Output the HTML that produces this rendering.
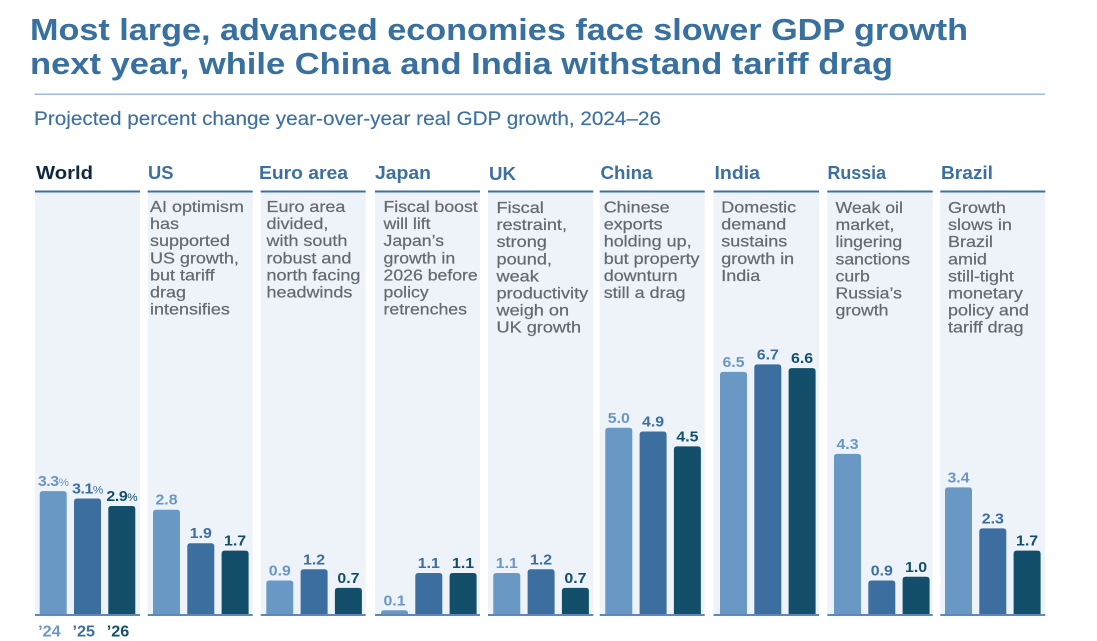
<!DOCTYPE html>
<html lang="en">
<head>
<meta charset="utf-8">
<title>Most large, advanced economies face slower GDP growth</title>
<style>
html,body{margin:0;padding:0;background:#fff;}
body{width:1097px;height:641px;overflow:hidden;}
svg{display:block;font-family:"Liberation Sans",Arial,sans-serif;}
.hd{font-size:18px;font-weight:700;fill:#3c70a0;}
.note{font-size:15.5px;fill:#666a6e;stroke:#666a6e;stroke-width:.22px;}
.val{font-size:15px;font-weight:700;text-anchor:middle;}
.yr{font-size:15.5px;font-weight:700;}
</style>
</head>
<body>
<svg id="chart" width="1097" height="641" viewBox="0 0 1097 641" xmlns="http://www.w3.org/2000/svg">
  <text x="30" y="40" font-size="30.5" font-weight="700" fill="#38709f" textLength="938" lengthAdjust="spacingAndGlyphs">Most large, advanced economies face slower GDP growth</text>
  <text x="30" y="74" font-size="30.5" font-weight="700" fill="#38709f" textLength="863" lengthAdjust="spacingAndGlyphs">next year, while China and India withstand tariff drag</text>
  <rect x="34.5" y="93.5" width="1010.5" height="1.5" fill="#9dbbd6"/>
  <text x="34" y="125" font-size="19.5" fill="#3c70a0" stroke="#3c70a0" stroke-width=".15" textLength="627" lengthAdjust="spacingAndGlyphs">Projected percent change year-over-year real GDP growth, 2024–26</text>

  <g id="panels" fill="#eef3fa">
    <rect class="panel" data-bars-x="39.7" x="35" y="191" width="105" height="423"/>
    <rect class="panel" data-bars-x="153" x="147.7" y="191" width="105" height="423"/>
    <rect class="panel" data-bars-x="266.3" x="260.7" y="191" width="105" height="423"/>
    <rect class="panel" data-bars-x="381" x="375" y="191" width="105" height="423"/>
    <rect class="panel" data-bars-x="493.3" x="488" y="191" width="105.3" height="423"/>
    <rect class="panel" data-bars-x="605.3" x="599.7" y="191" width="105" height="423"/>
    <rect class="panel" data-bars-x="720" x="713.5" y="191" width="105.5" height="423"/>
    <rect class="panel" data-bars-x="834" x="827.3" y="191" width="105.4" height="423"/>
    <rect class="panel" data-bars-x="945" x="940.3" y="191" width="105" height="423"/>
  </g>
  <g id="rules"></g>

  <text class="hd" x="36" y="179" style="fill:#10283f" textLength="57" lengthAdjust="spacingAndGlyphs">World</text>
  <text class="hd" x="148" y="179" textLength="25.5" lengthAdjust="spacingAndGlyphs">US</text>
  <text class="hd" x="259" y="179" textLength="89" lengthAdjust="spacingAndGlyphs">Euro area</text>
  <text class="hd" x="375" y="179" textLength="56" lengthAdjust="spacingAndGlyphs">Japan</text>
  <text class="hd" x="489" y="180" textLength="27" lengthAdjust="spacingAndGlyphs">UK</text>
  <text class="hd" x="600.5" y="179" textLength="52" lengthAdjust="spacingAndGlyphs">China</text>
  <text class="hd" x="714.5" y="179" textLength="45.5" lengthAdjust="spacingAndGlyphs">India</text>
  <text class="hd" x="827.5" y="179" textLength="58.5" lengthAdjust="spacingAndGlyphs">Russia</text>
  <text class="hd" x="941" y="179" textLength="52" lengthAdjust="spacingAndGlyphs">Brazil</text>

  <text class="note" transform="translate(150 212) scale(1.16 1)"><tspan x="0">AI optimism</tspan><tspan x="0" dy="17.1">has</tspan><tspan x="0" dy="17.1">supported</tspan><tspan x="0" dy="17.1">US growth,</tspan><tspan x="0" dy="17.1">but tariff</tspan><tspan x="0" dy="17.1">drag</tspan><tspan x="0" dy="17.1">intensifies</tspan></text>
  <text class="note" transform="translate(266.5 212) scale(1.16 1)"><tspan x="0">Euro area</tspan><tspan x="0" dy="17.1">divided,</tspan><tspan x="0" dy="17.1">with south</tspan><tspan x="0" dy="17.1">robust and</tspan><tspan x="0" dy="17.1">north facing</tspan><tspan x="0" dy="17.1">headwinds</tspan></text>
  <text class="note" transform="translate(383.5 212) scale(1.14 1)"><tspan x="0">Fiscal boost</tspan><tspan x="0" dy="17.1">will lift</tspan><tspan x="0" dy="17.1">Japan’s</tspan><tspan x="0" dy="17.1">growth in</tspan><tspan x="0" dy="17.1">2026 before</tspan><tspan x="0" dy="17.1">policy</tspan><tspan x="0" dy="17.1">retrenches</tspan></text>
  <text class="note" transform="translate(496.5 213) scale(1.17 1)"><tspan x="0">Fiscal</tspan><tspan x="0" dy="17.1">restraint,</tspan><tspan x="0" dy="17.1">strong</tspan><tspan x="0" dy="17.1">pound,</tspan><tspan x="0" dy="17.1">weak</tspan><tspan x="0" dy="17.1">productivity</tspan><tspan x="0" dy="17.1">weigh on</tspan><tspan x="0" dy="17.1">UK growth</tspan></text>
  <text class="note" transform="translate(603.7 212.5) scale(1.16 1)"><tspan x="0">Chinese</tspan><tspan x="0" dy="17.1">exports</tspan><tspan x="0" dy="17.1">holding up,</tspan><tspan x="0" dy="17.1">but property</tspan><tspan x="0" dy="17.1">downturn</tspan><tspan x="0" dy="17.1">still a drag</tspan></text>
  <text class="note" transform="translate(721.3 212.5) scale(1.16 1)"><tspan x="0">Domestic</tspan><tspan x="0" dy="17.1">demand</tspan><tspan x="0" dy="17.1">sustains</tspan><tspan x="0" dy="17.1">growth in</tspan><tspan x="0" dy="17.1">India</tspan></text>
  <text class="note" transform="translate(835.5 213) scale(1.14 1)"><tspan x="0">Weak oil</tspan><tspan x="0" dy="17.1">market,</tspan><tspan x="0" dy="17.1">lingering</tspan><tspan x="0" dy="17.1">sanctions</tspan><tspan x="0" dy="17.1">curb</tspan><tspan x="0" dy="17.1">Russia’s</tspan><tspan x="0" dy="17.1">growth</tspan></text>
  <text class="note" transform="translate(948 213) scale(1.16 1)"><tspan x="0">Growth</tspan><tspan x="0" dy="17.1">slows in</tspan><tspan x="0" dy="17.1">Brazil</tspan><tspan x="0" dy="17.1">amid</tspan><tspan x="0" dy="17.1">still-tight</tspan><tspan x="0" dy="17.1">monetary</tspan><tspan x="0" dy="17.1">policy and</tspan><tspan x="0" dy="17.1">tariff drag</tspan></text>

  <g id="bars"></g>
  <g id="labels"></g>
  <g id="years"></g>
</svg>
<script>
const categories = ['world', 'us', 'euro-area', 'japan', 'uk', 'china', 'india', 'russia', 'brazil'];
const growth2024 = [3.3, 2.8, 0.9, 0.1, 1.1, 5.0, 6.5, 4.3, 3.4];
const growth2025 = [3.1, 1.9, 1.2, 1.1, 1.2, 4.9, 6.7, 0.9, 2.3];
const growth2026 = [2.9, 1.7, 0.7, 1.1, 0.7, 4.5, 6.6, 1.0, 1.7];
const yearLabels = ['’24', '’25', '’26'];

const SVG_NS = 'http://www.w3.org/2000/svg';
const seriesValues = [growth2024, growth2025, growth2026];
const seriesColors = ['#6a98c4', '#3c6f9f', '#134f6b'];
const BASE_Y = 614;
const PX_PER_POINT = 37.25;
const BAR_WIDTH = 27;
const BAR_STEP = 34.3;

function yScale(v) { return BASE_Y - v * PX_PER_POINT; }
function xScale(panelIndex, seriesIndex) {
  const panel = document.querySelectorAll('.panel')[panelIndex];
  return parseFloat(panel.getAttribute('data-bars-x')) + seriesIndex * BAR_STEP;
}
function barPath(x, y, w) {
  const r = Math.min(3, BASE_Y - y);
  return 'M' + x + ' ' + BASE_Y + 'V' + (y + r) + 'Q' + x + ' ' + y + ' ' + (x + r) + ' ' + y +
         'H' + (x + w - r) + 'Q' + (x + w) + ' ' + y + ' ' + (x + w) + ' ' + (y + r) + 'V' + BASE_Y + 'Z';
}

const barsGroup = document.getElementById('bars');
const labelsGroup = document.getElementById('labels');
const yearsGroup = document.getElementById('years');
const rulesGroup = document.getElementById('rules');

document.querySelectorAll('.panel').forEach(function (panel, i) {
  const px = panel.getAttribute('x');
  const pw = panel.getAttribute('width');
  const top = document.createElementNS(SVG_NS, 'rect');
  
  
  top.setAttribute('x', px);
  top.setAttribute('y', 190.5);
  top.setAttribute('width', pw);
  top.setAttribute('height', 2);
  top.setAttribute('fill', '#3d70a0');
  rulesGroup.appendChild(top);
  const base = document.createElementNS(SVG_NS, 'rect');
  
  
  base.setAttribute('x', px);
  base.setAttribute('y', BASE_Y);
  base.setAttribute('width', pw);
  base.setAttribute('height', 2);
  base.setAttribute('fill', '#5f88b4');
  rulesGroup.appendChild(base);
});

categories.forEach(function (cat, c) {
  seriesValues.forEach(function (series, s) {
    const v = series[c];
    const x = xScale(c, s);
    const y = yScale(v);

    const bar = document.createElementNS(SVG_NS, 'path');
    
    
    bar.setAttribute('d', barPath(x, y, BAR_WIDTH));
    bar.setAttribute('fill', seriesColors[s]);
    barsGroup.appendChild(bar);

    const label = document.createElementNS(SVG_NS, 'text');
    
    
    label.setAttribute('class', 'val');
    label.setAttribute('transform', 'translate(' + (x + BAR_WIDTH / 2) + ' ' + (y - 5) + ') scale(1.06 1)');
    label.setAttribute('fill', seriesColors[s]);
    label.textContent = v.toFixed(1);
    if (c === 0) {
      label.style.letterSpacing = '-0.4px';
      const pct = document.createElementNS(SVG_NS, 'tspan');
      pct.setAttribute('font-size', '11');
      pct.setAttribute('font-weight', '400');
      pct.textContent = '%';
      label.appendChild(pct);
    }
    labelsGroup.appendChild(label);
  });
});

yearLabels.forEach(function (t, s) {
  const yr = document.createElementNS(SVG_NS, 'text');
  
  
  yr.setAttribute('class', 'yr');
  yr.setAttribute('x', xScale(0, s) - 1.5);
  yr.setAttribute('y', 636.5);
  yr.setAttribute('fill', seriesColors[s]);
  yr.setAttribute('textLength', 22.5);
  yr.setAttribute('lengthAdjust', 'spacingAndGlyphs');
  yr.textContent = t;
  yearsGroup.appendChild(yr);
});
</script>
</body>
</html>
